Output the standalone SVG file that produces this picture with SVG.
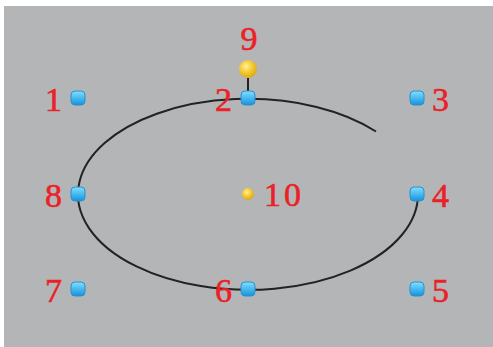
<svg xmlns="http://www.w3.org/2000/svg" width="493" height="347" viewBox="0 0 493 347">
<defs>
<linearGradient id="blue" x1="0" y1="0" x2="0" y2="1">
<stop offset="0" stop-color="#7fe0ff"/>
<stop offset="1" stop-color="#1592dc"/>
</linearGradient>
<radialGradient id="gold" cx="0.4" cy="0.35" r="0.7">
<stop offset="0" stop-color="#fff19a"/>
<stop offset="0.5" stop-color="#f4c932"/>
<stop offset="1" stop-color="#d9a514"/>
</radialGradient>
<style>
.h{fill:url(#blue);stroke:#2a8fd0;stroke-width:1}
.lbl{font-family:"Liberation Serif","DejaVu Serif",serif;font-size:34px;fill:#ea2227;stroke:#ea2227;stroke-width:0.6}
.ln{fill:none;stroke:#222;stroke-width:2}
</style>
</defs>
<rect x="0" y="0" width="493" height="347" fill="#ffffff"/>
<rect x="4" y="6" width="489" height="341" fill="#b4b5b7"/>
<g id="connectors">
<path class="ln" d="M 418 194 A 170 95.5 0 1 1 376 131.5"/>
<line class="ln" x1="248" y1="78" x2="248" y2="92"/>
</g>
<g id="n1"><rect class="h" x="71" y="91" width="14" height="14" rx="4"/><text class="lbl" x="62" y="111" text-anchor="end">1</text></g>
<g id="n2"><rect class="h" x="241" y="91" width="14" height="14" rx="4"/><text class="lbl" x="232" y="111" text-anchor="end">2</text></g>
<g id="n3"><rect class="h" x="410" y="91" width="14" height="14" rx="4"/><text class="lbl" x="432" y="111">3</text></g>
<g id="n4"><rect class="h" x="410" y="187" width="14" height="14" rx="4"/><text class="lbl" x="432" y="207">4</text></g>
<g id="n5"><rect class="h" x="410" y="282" width="14" height="14" rx="4"/><text class="lbl" x="432" y="302">5</text></g>
<g id="n6"><rect class="h" x="241" y="282" width="14" height="14" rx="4"/><text class="lbl" x="232" y="302" text-anchor="end">6</text></g>
<g id="n7"><rect class="h" x="71" y="282" width="14" height="14" rx="4"/><text class="lbl" x="62" y="302" text-anchor="end">7</text></g>
<g id="n8"><rect class="h" x="71" y="187" width="14" height="14" rx="4"/><text class="lbl" x="62" y="207" text-anchor="end">8</text></g>
<g id="n9"><circle cx="248" cy="69" r="9" fill="url(#gold)"/><text class="lbl" x="249" y="50" text-anchor="middle">9</text></g>
<g id="n10"><circle cx="248" cy="194" r="6" fill="url(#gold)"/><text class="lbl" x="264" y="206" letter-spacing="3">10</text></g>
</svg>
